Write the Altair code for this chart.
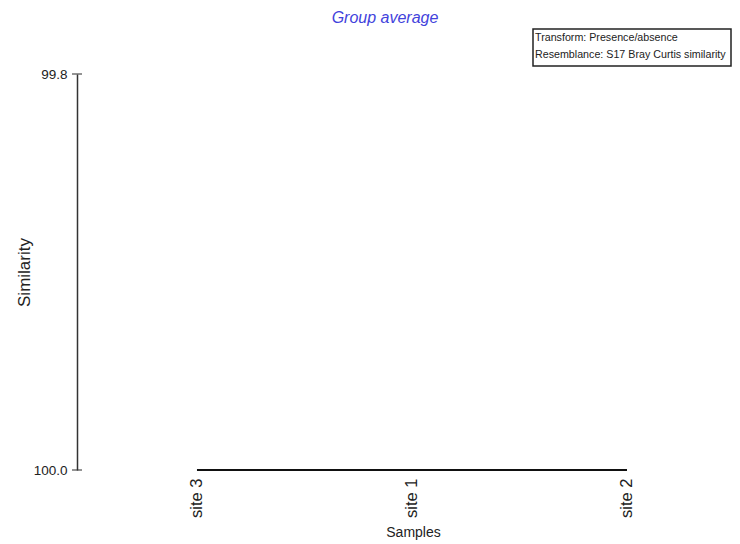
import altair as alt
import pandas as pd

# Dendrogram data (group average, Bray-Curtis similarity on presence/absence)
leaves = ["site 3", "site 1", "site 2"]          # leaf order along the x axis
merge_pairs = [[0, 1], [3, 2]]                   # scipy-style linkage: cluster ids (n + k for merged)
merge_heights = [100.0, 100.0]                   # similarity at which each merge happens
leaf_height = 100.0
y_ticks = [99.8, 100.0]
info_lines = ["Transform: Presence/absence", "Resemblance: S17 Bray Curtis similarity"]

# Build dendrogram segments from the linkage
n = len(leaves)
pos = {i: float(i) for i in range(n)}
hgt = {i: leaf_height for i in range(n)}
segs = []
for k, ((a, b), h) in enumerate(zip(merge_pairs, merge_heights)):
    segs.append({"x1": pos[a], "x2": pos[a], "y1": hgt[a], "y2": h})
    segs.append({"x1": pos[b], "x2": pos[b], "y1": hgt[b], "y2": h})
    segs.append({"x1": pos[a], "x2": pos[b], "y1": h, "y2": h})
    pos[n + k] = (pos[a] + pos[b]) / 2
    hgt[n + k] = h
seg_df = pd.DataFrame(segs)

label_expr = "[" + ",".join("'%s'" % s for s in leaves) + "][datum.value]"

FONT = "Liberation Sans"
TXT = "#222222"

xscale = alt.Scale(domain=[-0.558, 2.307], nice=False, zero=False)
yscale = alt.Scale(domain=[y_ticks[0], y_ticks[-1]], reverse=True, nice=False, zero=False)

dendro = alt.Chart(seg_df).mark_rule(color="#111111", strokeWidth=2).encode(
    x=alt.X("x1:Q", scale=xscale,
            axis=alt.Axis(values=list(range(n)), labelExpr=label_expr, labelAngle=-90,
                          domain=False, ticks=False, grid=False, labelPadding=8,
                          labelFont=FONT, labelFontSize=16.5, labelColor=TXT,
                          title="Samples", titleFont=FONT, titleFontSize=14,
                          titleFontWeight="normal", titleColor=TXT,
                          titleX=336, titleY=66, titleBaseline="alphabetic")),
    x2="x2:Q",
    y=alt.Y("y1:Q", scale=yscale,
            axis=alt.Axis(values=y_ticks, format=".1f", ticks=False, grid=False,
                          domainColor="#333333", domainWidth=1.5, labelPadding=10,
                          labelFont=FONT, labelFontSize=13.5, labelColor=TXT,
                          title="Similarity", titleFont=FONT, titleFontSize=17,
                          titleFontWeight="normal", titleColor=TXT,
                          titleX=-48, titleBaseline="alphabetic")),
    y2="y2:Q",
)

tick_df = pd.DataFrame({"v": y_ticks})
ticks = alt.Chart(tick_df).mark_tick(color="#333333", thickness=1.5, size=10).encode(
    y=alt.Y("v:Q", scale=yscale),
    x=alt.value(0),
)

box = alt.Chart(pd.DataFrame({"a": [0]})).mark_rect(
    fill="white", stroke="#222222", strokeWidth=1.5
).encode(x=alt.value(456), x2=alt.value(654), y=alt.value(-45), y2=alt.value(-8))

info1 = alt.Chart(pd.DataFrame({"t": [info_lines[0]]})).mark_text(
    align="left", baseline="middle", font=FONT, fontSize=10.7, color=TXT
).encode(text="t:N", x=alt.value(458), y=alt.value(-36))
info2 = alt.Chart(pd.DataFrame({"t": [info_lines[1]]})).mark_text(
    align="left", baseline="middle", font=FONT, fontSize=10.7, color=TXT
).encode(text="t:N", x=alt.value(458), y=alt.value(-19))

chart = alt.layer(dendro, ticks, box, info1, info2).properties(
    width=616,
    height=396,
    title=alt.TitleParams("Group average", font=FONT, fontSize=16, fontStyle="italic",
                          fontWeight="normal", color="#4242dc", anchor="middle",
                          frame="group", offset=2),
    autosize=alt.AutoSizeParams(type="none"),
    padding={"left": 69, "top": 66, "right": 39, "bottom": 74},
).configure_view(stroke=None)

chart.save("out.html", embed_options={"renderer": "svg", "actions": False})
